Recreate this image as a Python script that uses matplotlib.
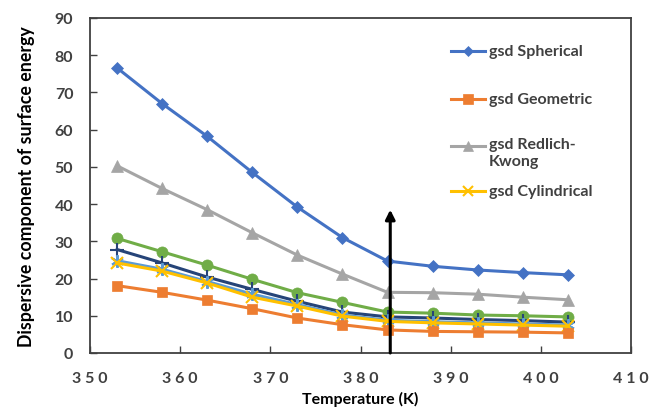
import matplotlib
matplotlib.use("Agg")
import matplotlib.pyplot as plt
from matplotlib.lines import Line2D

temperature = [353, 358, 363, 368, 373, 378, 383, 388, 393, 398, 403]
spherical = [76.6, 67.0, 58.2, 48.5, 39.2, 31.0, 24.7, 23.3, 22.3, 21.6, 21.0]
geometric = [18.1, 16.3, 14.2, 11.9, 9.4, 7.6, 6.2, 5.8, 5.7, 5.6, 5.4]
redlich_kwong = [50.3, 44.2, 38.5, 32.3, 26.3, 21.2, 16.3, 16.2, 15.8, 15.0, 14.3]
cylindrical = [24.2, 22.0, 18.8, 15.0, 12.6, 9.9, 8.5, 8.1, 7.8, 7.5, 7.2]
series_green = [30.8, 27.2, 23.6, 19.8, 16.2, 13.6, 11.0, 10.7, 10.2, 10.0, 9.7]
series_navy = [27.8, 24.2, 20.4, 17.1, 13.9, 11.0, 9.7, 9.4, 9.0, 8.7, 8.3]
series_lightblue = [24.8, 22.5, 19.2, 15.8, 13.0, 10.2, 8.8, 8.4, 8.1, 7.8, 7.5]

arrow_x = 383.3
arrow_top = 38.5

x_ticks = [350, 360, 370, 380, 390, 400, 410]
y_ticks = [0, 10, 20, 30, 40, 50, 60, 70, 80, 90]

plt.rcParams['font.family'] = ['Lato', 'DejaVu Sans']

fig = plt.figure(figsize=(6.49, 4.10), dpi=100)
ax = fig.add_axes([90/649, 56/410, 541/649, 335/410])

lw = 2.2
styles = [
    (series_green, '#70AD47', 'o', 8, None),
    (series_navy, '#264478', '+', 10, None),
    (series_lightblue, '#5B9BD5', (6, 2, 0), 9, None),
    (cylindrical, '#FFC000', 'x', 8, 'gsd Cylindrical'),
    (redlich_kwong, '#A5A5A5', '^', 8.5, 'gsd Redlich-\nKwong'),
    (geometric, '#ED7D31', 's', 7.5, 'gsd Geometric'),
    (spherical, '#4472C4', 'D', 6.5, 'gsd Spherical'),
]
for vals, col, mk, ms, lab in styles:
    ax.plot(temperature, vals, color=col, lw=lw, marker=mk, ms=ms,
            mew=1.5 if mk in ('+', 'x') or isinstance(mk, tuple) else 0.5,
            mec=col, mfc=col, zorder=3)

ax.annotate('', xy=(arrow_x, arrow_top), xytext=(arrow_x, 0),
            arrowprops=dict(arrowstyle='-|>', color='black', lw=2.2,
                            mutation_scale=14, shrinkA=0, shrinkB=0), zorder=5)

ax.set_xlim(350, 410)
ax.set_ylim(0, 90)
ax.set_xticks(x_ticks)
ax.set_yticks(y_ticks)
ax.set_xticklabels([' '.join(str(t)) for t in x_ticks], fontsize=11.5, fontweight='bold', color='#404040')
ax.set_yticklabels([str(t) for t in y_ticks], fontsize=11.5, fontweight='bold', color='#404040')
ax.tick_params(axis='both', direction='in', length=5, width=1, color='#404040')
ax.tick_params(axis='x', pad=13)
ax.tick_params(axis='y', pad=12)
for s in ax.spines.values():
    s.set_color('#404040')
    s.set_linewidth(1.3)

ax.set_xlabel('Temperature (K)', fontsize=11.5, fontweight='bold', labelpad=4)
ax.set_ylabel('Dispersive component of surface energy', fontsize=12.8, fontweight='bold', labelpad=14)

# manual legend (in axes coordinates)
leg_items = [
    ('#4472C4', 'D', 5.5, 'gsd Spherical', 52),
    ('#ED7D31', 's', 7, 'gsd Geometric', 100),
    ('#A5A5A5', '^', 7.5, 'gsd Redlich-\nKwong', 147),
    ('#FFC000', 'x', 7, 'gsd Cylindrical', 192),
]
for col, mk, ms, lab, py in leg_items:
    yy = (354 - py) / 335
    x0 = (451 - 90) / 541
    x1 = (485 - 90) / 541
    ax.add_line(Line2D([x0, x1], [yy, yy], transform=ax.transAxes, color=col, lw=lw, zorder=4))
    ax.add_line(Line2D([(x0 + x1) / 2], [yy], transform=ax.transAxes, color=col, marker=mk,
                       ms=ms, mew=1.5 if mk == 'x' else 0.5, zorder=4))
    multi = '\n' in lab
    ty = yy + 9 / 335 if multi else yy
    ax.text((489 - 90) / 541, ty, lab, transform=ax.transAxes, fontsize=11.5,
            fontweight='bold', color='#404040', va='top' if multi else 'center',
            ha='left', linespacing=1.25)

fig.savefig('out.png', dpi=100)
